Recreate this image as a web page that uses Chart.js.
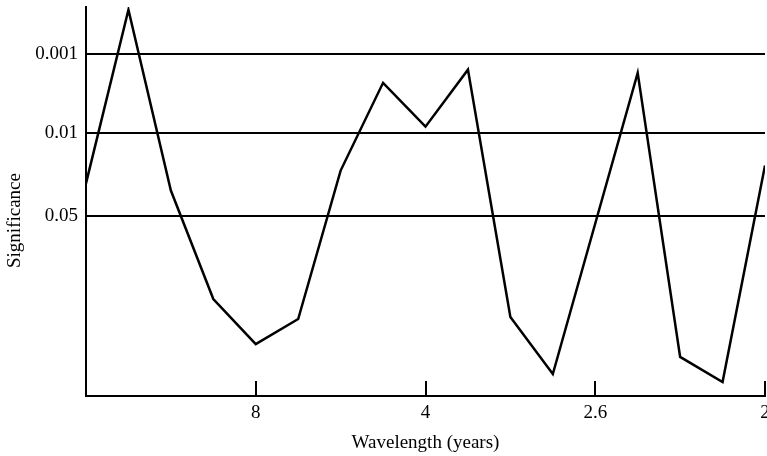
<!DOCTYPE html>
<html>
<head>
<meta charset="utf-8">
<script src="https://cdn.jsdelivr.net/npm/chart.js@4"></script>
<style>
  html, body { margin: 0; padding: 0; background: #fff; }
  #wrap { width: 767px; height: 456px; }
</style>
</head>
<body>
<div id="wrap"><canvas id="sigChart"></canvas></div>
<script>
// frequency (cycles per year) of each estimate and its significance index
const frequencies = [0, 0.03125, 0.0625, 0.09375, 0.125, 0.15625, 0.1875, 0.21875, 0.25,
  0.28125, 0.3125, 0.34375, 0.40625, 0.4375, 0.46875, 0.5];
const significance = [5.33, 9.68, 5.15, 2.43, 1.3, 1.93, 5.65, 7.85, 6.75,
  8.18, 1.98, 0.55, 8.1, 0.98, 0.35, 5.78];

// x ticks: positions in frequency, labelled as wavelength
const xTickValues = [0.125, 0.25, 0.375, 0.5];
const xTickLabels = ["8", "4", "2.6", "2"];

// significance levels drawn as horizontal lines
const levelValues = [8.58, 6.58, 4.5];
const levelLabels = ["0.001", "0.01", "0.05"];

const serif = "'Liberation Serif', 'DejaVu Serif', serif";

// short tick marks pointing up into the plot from the x axis
const innerTicks = {
  id: "innerTicks",
  afterDraw(chart) {
    const ctx = chart.ctx;
    const x = chart.scales.x;
    const bottom = chart.chartArea.bottom;
    ctx.save();
    ctx.strokeStyle = "#000";
    ctx.lineWidth = 2;
    xTickValues.forEach(v => {
      const px = Math.round(x.getPixelForValue(v));
      ctx.beginPath();
      ctx.moveTo(px, bottom);
      ctx.lineTo(px, bottom - 15);
      ctx.stroke();
    });
    ctx.restore();
  }
};

new Chart(document.getElementById("sigChart"), {
  type: "line",
  data: {
    datasets: [{
      data: frequencies.map((f, i) => ({ x: f, y: significance[i] })),
      borderColor: "#000",
      borderWidth: 2.5,
      pointRadius: 0,
      tension: 0,
      fill: false
    }]
  },
  options: {
    responsive: true,
    maintainAspectRatio: false,
    animation: false,
    layout: { padding: { top: 7, right: 2, left: 0, bottom: 0 } },
    plugins: {
      legend: { display: false },
      tooltip: { enabled: false }
    },
    scales: {
      x: {
        type: "linear",
        min: 0,
        max: 0.5,
        afterBuildTicks: scale => {
          scale.ticks = xTickValues.map(v => ({ value: v }));
        },
        afterFit: scale => {
          scale.height = 60;
          scale.paddingLeft = 0;
          scale.paddingRight = 0;
        },
        ticks: {
          color: "#000",
          font: { family: serif, size: 19 },
          padding: 6,
          maxRotation: 0,
          callback: (v) => xTickLabels[xTickValues.indexOf(v)]
        },
        grid: { display: false, drawTicks: false },
        border: { display: true, color: "#000", width: 2 },
        title: {
          display: true,
          text: "Wavelength (years)",
          color: "#000",
          font: { family: serif, size: 19 },
          padding: { top: 0, bottom: 2 }
        }
      },
      y: {
        min: 0,
        max: 9.75,
        afterBuildTicks: scale => {
          scale.ticks = levelValues.map(v => ({ value: v }));
        },
        afterFit: scale => {
          scale.width = 86;
          scale.paddingTop = 0;
          scale.paddingBottom = 0;
        },
        ticks: {
          color: "#000",
          font: { family: serif, size: 19 },
          padding: 8,
          callback: (v) => levelLabels[levelValues.indexOf(v)]
        },
        grid: { color: "#000", lineWidth: 2, drawTicks: false },
        border: { display: true, color: "#000", width: 2 },
        title: {
          display: true,
          text: "Significance\u00a0\u00a0\u00a0\u00a0\u00a0\u00a0\u00a0\u00a0",
          color: "#000",
          font: { family: serif, size: 19 },
          padding: { top: 4, bottom: 0 }
        }
      }
    }
  },
  plugins: [innerTicks]
});
</script>
</body>
</html>
